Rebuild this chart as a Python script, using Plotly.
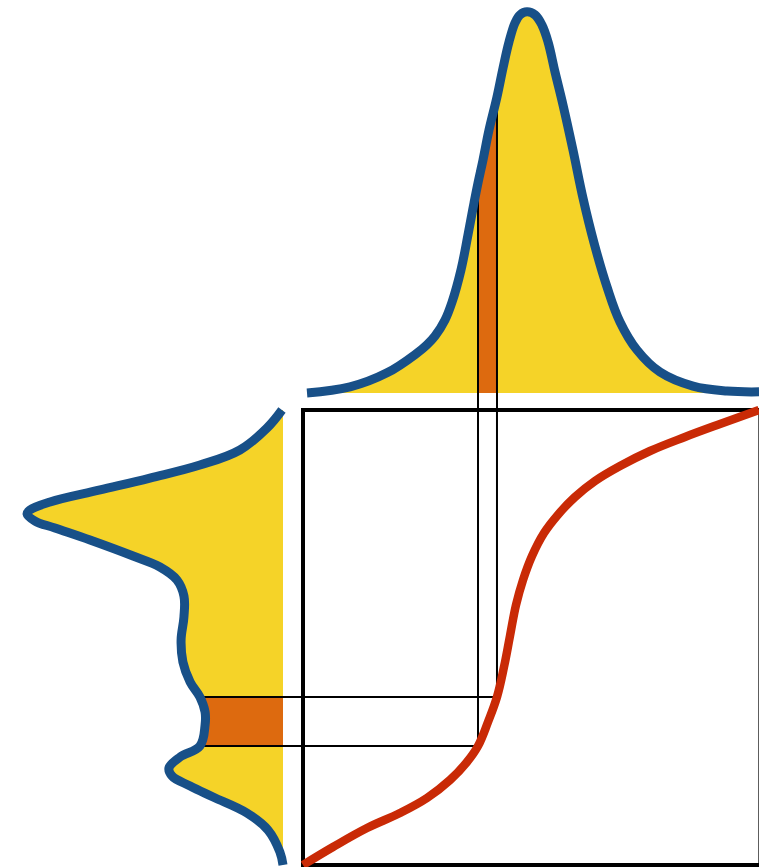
import plotly.graph_objects as go

# ---------------- data ----------------
# Top density: x value (0..100 across the square) and density height (peak = 1)
TOP_X = [0.88, 10.31, 18.42, 25.00, 27.19, 28.95, 31.14, 32.68, 34.65, 36.18, 37.50,
         38.38, 39.47, 40.79, 42.54, 43.86, 45.18, 46.49, 47.59, 49.12, 50.88, 52.41,
         53.73, 55.26, 57.02, 59.21, 61.40, 63.82, 66.67, 69.52, 73.25, 78.29, 85.53,
         92.98, 100.0]
TOP_D = [0.0, 0.016, 0.053, 0.105, 0.127, 0.150, 0.192, 0.239, 0.324, 0.416, 0.500,
         0.553, 0.613, 0.692, 0.779, 0.855, 0.924, 0.974, 0.995, 1.003, 0.995, 0.968,
         0.924, 0.845, 0.758, 0.639, 0.513, 0.395, 0.279, 0.187, 0.113, 0.055, 0.018,
         0.005, 0.003]

# Transform curve (red): x value -> transformed value (0..100)
RED_X = [0, 6.58, 14.04, 21.27, 27.19, 32.24, 35.96, 38.38, 40.57, 42.54, 44.08,
         45.39, 46.71, 48.25, 50.22, 52.85, 55.92, 59.65, 64.04, 69.52, 76.10,
         83.77, 91.45, 100]
RED_V = [0, 3.96, 8.13, 11.43, 14.73, 18.68, 22.64, 26.15, 31.43, 36.92, 43.52,
         50.33, 57.14, 62.64, 67.91, 72.97, 77.00, 80.88, 84.40, 87.69, 90.99,
         94.07, 96.92, 100]

# Left density of the transformed value: value and density width (max ~ 1)
LEFT_V = [100, 96.04, 91.21, 87.91, 85.05, 82.42, 79.78, 78.02, 77.14, 75.60, 74.07,
          71.43, 67.91, 65.49, 62.64, 59.12, 54.51, 49.45, 44.62, 40.22, 36.92,
          33.63, 30.77, 26.15, 23.74, 21.32, 19.56, 17.36, 14.95, 11.43, 7.69, 2.86, 0]
LEFT_W = [0.004, 0.062, 0.167, 0.322, 0.516, 0.709, 0.903, 0.981, 0.992, 0.961, 0.884,
          0.748, 0.581, 0.477, 0.411, 0.384, 0.384, 0.395, 0.388, 0.360, 0.322,
          0.302, 0.302, 0.322, 0.399, 0.442, 0.430, 0.360, 0.271, 0.140, 0.058, 0.012, 0.0]

# Highlighted interval and its image under the transform
BAND_X = [38.38, 42.54]
BAND_V = [26.15, 36.92]

# ---------------- styles ----------------
YELLOW = "#F5D328"
BLUE = "#185088"
ORANGE = "#DD6A0F"
RED = "#C92A06"
BLACK = "#000000"

# ---------------- layout geometry (pixels) ----------------
W, H = 759, 867
MAIN_PX0, MAIN_SX = 303, 4.56      # x value 0 at px 303
MAIN_PY0, MAIN_SY = 865, 4.55      # v value 0 at py 865
TOP_PY0, TOP_S = 393, 380          # density 0 at py 393
LEFT_PX0, LEFT_S = 283, 258        # left density 0 at px 283 (grows leftwards)
MAIN_TOP_PY = MAIN_PY0 - 100 * MAIN_SY


def x_axis(px0, scale, px_lo, px_hi, reverse=False):
    sign = -1 if reverse else 1
    return dict(domain=[px_lo / W, px_hi / W],
                range=[sign * (px_lo - px0) / scale, sign * (px_hi - px0) / scale],
                visible=False, fixedrange=True, showgrid=False, zeroline=False)


def y_axis(py0, scale, py_top, py_bot):
    return dict(domain=[(H - py_bot) / H, (H - py_top) / H],
                range=[(py0 - py_bot) / scale, (py0 - py_top) / scale],
                visible=False, fixedrange=True, showgrid=False, zeroline=False)


def subset(xs, ys, lo, hi):
    pts = [(a, b) for a, b in zip(xs, ys) if lo <= a <= hi]
    return [p[0] for p in pts], [p[1] for p in pts]


band_top_d = [TOP_D[TOP_X.index(u)] for u in BAND_X]
band_left_w = [LEFT_W[LEFT_V.index(v)] for v in BAND_V]

fig = go.Figure()
SPL = dict(shape="spline", smoothing=1.1)

# ---- top density ----
fig.add_trace(go.Scatter(x=TOP_X, y=TOP_D, xaxis="x", yaxis="y2", mode="lines",
                         line=dict(width=0, **SPL), fill="tozeroy", fillcolor=YELLOW,
                         hoverinfo="skip"))
ox, oy = subset(TOP_X, TOP_D, BAND_X[0], BAND_X[1])
fig.add_trace(go.Scatter(x=ox, y=oy, xaxis="x", yaxis="y2", mode="lines",
                         line=dict(width=0, **SPL), fill="tozeroy", fillcolor=ORANGE,
                         hoverinfo="skip"))
fig.add_trace(go.Scatter(x=[BAND_X[0], BAND_X[0], None, BAND_X[1], BAND_X[1]],
                         y=[0, band_top_d[0], None, 0, band_top_d[1]],
                         xaxis="x", yaxis="y2", mode="lines",
                         line=dict(color=BLACK, width=2), hoverinfo="skip"))
fig.add_trace(go.Scatter(x=TOP_X, y=TOP_D, xaxis="x", yaxis="y2", mode="lines",
                         line=dict(color=BLUE, width=9, **SPL), hoverinfo="skip"))

# ---- main square ----
fig.add_trace(go.Scatter(x=[0, BAND_X[0], BAND_X[0], None, 0, BAND_X[1], BAND_X[1]],
                         y=[BAND_V[0], BAND_V[0], 100, None, BAND_V[1], BAND_V[1], 100],
                         xaxis="x", yaxis="y", mode="lines",
                         line=dict(color=BLACK, width=2), hoverinfo="skip"))
fig.add_trace(go.Scatter(x=RED_X, y=RED_V, xaxis="x", yaxis="y", mode="lines",
                         line=dict(color=RED, width=8.5, **SPL), hoverinfo="skip"))

# ---- left density ----
fig.add_trace(go.Scatter(x=LEFT_W, y=LEFT_V, xaxis="x2", yaxis="y", mode="lines",
                         line=dict(width=0, **SPL), fill="tozerox", fillcolor=YELLOW,
                         hoverinfo="skip"))
ly, lx = subset(LEFT_V, LEFT_W, BAND_V[0], BAND_V[1])
fig.add_trace(go.Scatter(x=lx, y=ly, xaxis="x2", yaxis="y", mode="lines",
                         line=dict(width=0, **SPL), fill="tozerox", fillcolor=ORANGE,
                         hoverinfo="skip"))
fig.add_trace(go.Scatter(x=[0, band_left_w[0], None, 0, band_left_w[1]],
                         y=[BAND_V[0], BAND_V[0], None, BAND_V[1], BAND_V[1]],
                         xaxis="x2", yaxis="y", mode="lines",
                         line=dict(color=BLACK, width=2), hoverinfo="skip"))
fig.add_trace(go.Scatter(x=LEFT_W, y=LEFT_V, xaxis="x2", yaxis="y", mode="lines",
                         line=dict(color=BLUE, width=9, **SPL), hoverinfo="skip"))

shapes = [
    dict(type="rect", xref="x", yref="y", x0=0, x1=100.3, y0=0, y1=100,
         line=dict(color=BLACK, width=4), fillcolor="rgba(0,0,0,0)", layer="below"),
]
for u in BAND_X:
    shapes.append(dict(type="line", xref="x", yref="paper", x0=u, x1=u,
                       y0=(H - MAIN_TOP_PY) / H, y1=(H - TOP_PY0) / H,
                       line=dict(color=BLACK, width=2)))
for v in BAND_V:
    shapes.append(dict(type="line", xref="paper", yref="y", y0=v, y1=v,
                       x0=LEFT_PX0 / W, x1=MAIN_PX0 / W,
                       line=dict(color=BLACK, width=2)))

fig.update_layout(
    width=W, height=H, margin=dict(l=0, r=0, t=0, b=0),
    paper_bgcolor="white", plot_bgcolor="rgba(0,0,0,0)", showlegend=False,
    xaxis=x_axis(MAIN_PX0, MAIN_SX, 296, 759),
    yaxis=dict(y_axis(MAIN_PY0, MAIN_SY, 403, 867), anchor="x"),
    xaxis2=dict(x_axis(LEFT_PX0, LEFT_S, 0, 290, reverse=True), anchor="y"),
    yaxis2=dict(y_axis(TOP_PY0, TOP_S, 0, 400), anchor="x"),
    shapes=shapes,
)

fig.write_html("out.html", config={"displayModeBar": False, "staticPlot": True},
               post_script="document.body.style.margin='0';document.body.style.overflow='hidden';")
